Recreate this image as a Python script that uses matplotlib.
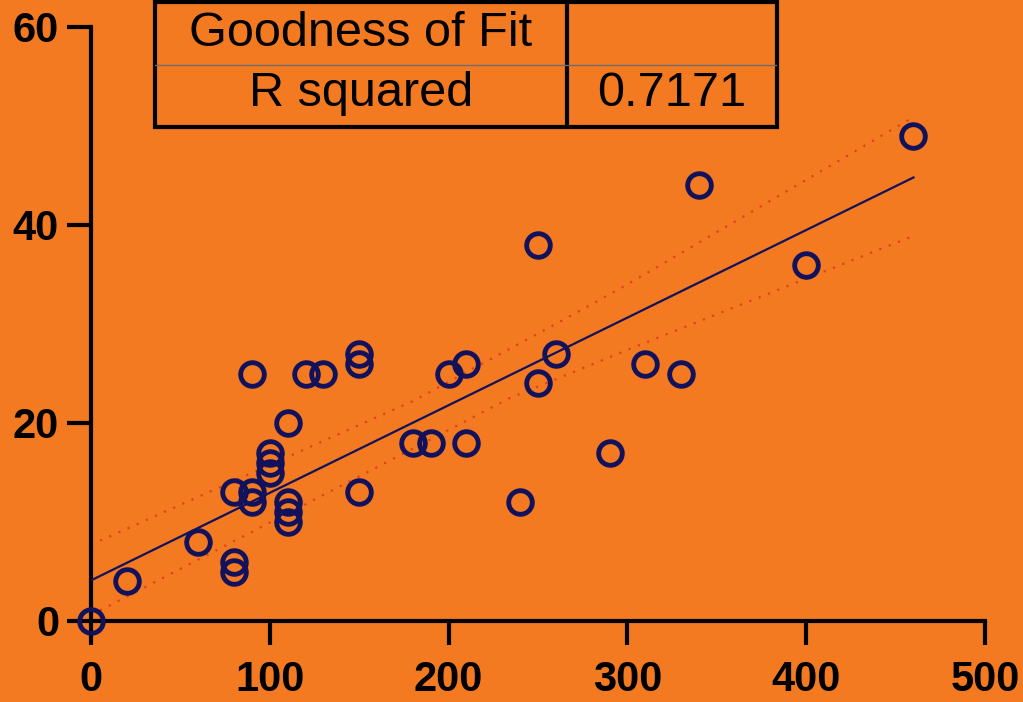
import numpy as np
import matplotlib
matplotlib.use("Agg")
import matplotlib.pyplot as plt
from matplotlib.lines import Line2D
from matplotlib.patches import Rectangle

# ---- data ----
x_vals = [0, 20, 60, 80, 80, 80, 90, 90, 90, 100, 100, 100, 110, 110, 110, 110,
          120, 130, 150, 150, 150, 180, 190, 200, 210, 210, 240, 250, 250, 260,
          290, 310, 330, 340, 400, 460]
y_vals = [0, 4, 8, 5, 6, 13, 12, 13, 25, 15, 16, 17, 20, 10, 11, 12,
          25, 25, 26, 27, 13, 18, 18, 25, 26, 18, 12, 38, 24, 27,
          17, 26, 25, 44, 36, 49]
# regression line and 95% confidence band
fit_x = [0, 460]
fit_y = [4.1, 44.8]
upper_x = [0, 181, 265, 300, 460]
upper_y = [7.7, 22.3, 30.5, 34.0, 50.9]
lower_x = [0, 181, 234, 303, 460]
lower_y = [0.6, 17.5, 22.5, 27.6, 38.9]
x_ticks = [0, 100, 200, 300, 400, 500]
y_ticks = [0, 20, 40, 60]
table_rows = [["Goodness of Fit", ""], ["R squared", "0.7171"]]

BG = "#F37A21"
NAVY = "#12125C"
RED = "#E2401C"

plt.rcParams['font.family'] = ['Liberation Sans', 'DejaVu Sans']

fig = plt.figure(figsize=(10.23, 7.02), dpi=100)
fig.patch.set_facecolor(BG)
ax = fig.add_axes([91/1023, 1 - 621/702, (985-91)/1023, (621-27)/702])
ax.set_facecolor(BG)

ax.plot(upper_x, upper_y, color=RED, lw=1.6, ls=(0, (1, 3.5)), zorder=2)
ax.plot(lower_x, lower_y, color=RED, lw=1.6, ls=(0, (1, 3.5)), zorder=2)
ax.plot(fit_x, fit_y, color=NAVY, lw=1.6, zorder=3)
ax.plot(x_vals, y_vals, ls='none', marker='o', ms=17, mfc='none', mec=NAVY, mew=3.5,
        clip_on=False, zorder=4)

ax.set_xlim(0, 500)
ax.set_ylim(0, 60)
ax.set_xticks(x_ticks)
ax.set_yticks(y_ticks)
for sp in ['top', 'right']:
    ax.spines[sp].set_visible(False)
for sp in ['left', 'bottom']:
    ax.spines[sp].set_linewidth(3)
    ax.spines[sp].set_color('black')
ax.tick_params(axis='both', length=17, width=3, direction='out', colors='black',
               labelsize=30)
ax.tick_params(axis='x', pad=11)
ax.tick_params(axis='y', pad=6)
for lab in ax.get_xticklabels() + ax.get_yticklabels():
    lab.set_fontweight('bold')

# ---- goodness-of-fit table ----
tax = fig.add_axes([155/1023, 1 - 127/702, 622/1023, 125/702])
tax.set_xlim(0, 1)
tax.set_ylim(0, 1)
tax.axis('off')
tax.add_patch(Rectangle((0, 0), 1, 1, fill=False, ec='black', lw=3, clip_on=False))
col_split = 0.662
row_split = 0.496
tax.add_line(Line2D([col_split, col_split], [0, 1], color='black', lw=3))
tax.add_line(Line2D([0, 1], [row_split, row_split], color='#6F6F6F', lw=1))
row_centers = [(1 + row_split) / 2 + 0.0, row_split / 2 + 0.02]
col_centers = [col_split / 2, (1 + col_split) / 2]
for r, row in enumerate(table_rows):
    for c, txt in enumerate(row):
        if txt:
            tax.text(col_centers[c], row_centers[r], txt, ha='center', va='center',
                     fontsize=35, color='black')

fig.savefig("out.png", dpi=100, facecolor=BG)
